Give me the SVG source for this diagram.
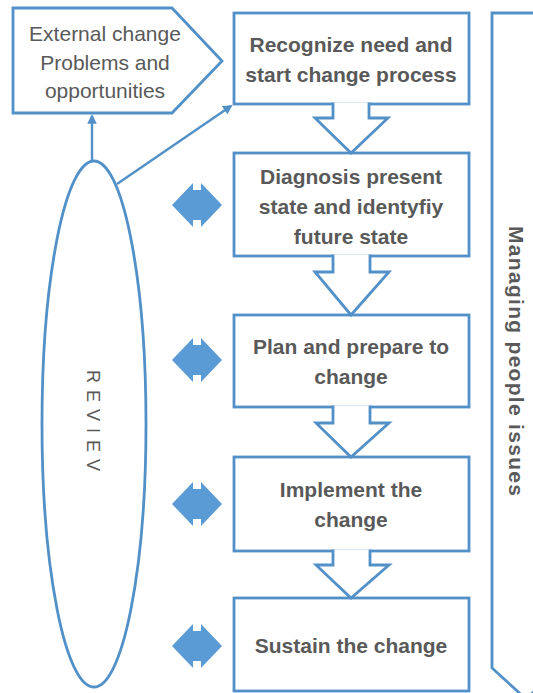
<svg xmlns="http://www.w3.org/2000/svg" width="533" height="693" viewBox="0 0 533 693">
<style>
.sh{fill:#fff;stroke:#5290C8;stroke-width:2.8}
.ba{fill:#fff;stroke:#5290C8;stroke-width:2.8;stroke-linejoin:miter}
.dbl{fill:#5B9BD5;stroke:none}
.bt{font-family:"Liberation Sans",Arial,sans-serif;font-weight:bold;font-size:21px;fill:#595959;text-anchor:middle}
.rt{font-family:"Liberation Sans",Arial,sans-serif;font-size:21px;fill:#595959;text-anchor:middle}
.con{stroke:#5290C8;stroke-width:2.4;fill:none}
</style>
<defs>
<marker id="ah" viewBox="0 0 10 10" refX="8" refY="5" markerWidth="4" markerHeight="4" orient="auto" markerUnits="strokeWidth">
<path d="M0,0 L10,5 L0,10 z" fill="#5290C8"/>
</marker>
</defs>
<rect width="533" height="693" fill="#fff"/>

<g id="managing">
<path class="sh" d="M492,13 H560 V668 L526,699 L492,668 Z" stroke="#6C8FB3"/>
<text class="bt" transform="translate(509,361) rotate(90)" font-size="23" textLength="270" lengthAdjust="spacing">Managing people issues</text>
</g>

<g id="review">
<ellipse class="sh" cx="94" cy="424" rx="52" ry="263"/>
<text transform="translate(87,424) rotate(90)" font-family="Liberation Sans,Arial,sans-serif" font-size="18" fill="#595959" text-anchor="middle" letter-spacing="7">REVIEV</text>
</g>

<g id="external">
<polygon class="sh" points="13,8 172,8 222,61 172,113 13,113"/>
<text class="rt" x="105" y="41">External change</text>
<text class="rt" x="105" y="70">Problems and</text>
<text class="rt" x="105" y="98">opportunities</text>
</g>

<g id="recognize">
<rect class="sh" x="234" y="13" width="235" height="91"/>
<text class="bt" x="351" y="52">Recognize need and</text>
<text class="bt" x="351" y="82">start change process</text>
</g>

<g id="diagnosis">
<rect class="sh" x="234" y="153" width="235" height="103"/>
<text class="bt" x="351" y="184">Diagnosis present</text>
<text class="bt" x="351" y="214">state and identyfiy</text>
<text class="bt" x="351" y="244">future state</text>
</g>

<g id="plan">
<rect class="sh" x="234" y="315" width="235" height="92"/>
<text class="bt" x="351" y="354">Plan and prepare to</text>
<text class="bt" x="351" y="384">change</text>
</g>

<g id="implement">
<rect class="sh" x="234" y="457" width="235" height="94"/>
<text class="bt" x="351" y="497">Implement the</text>
<text class="bt" x="351" y="527">change</text>
</g>

<g id="sustain">
<rect class="sh" x="234" y="598" width="235" height="93"/>
<text class="bt" x="351" y="653">Sustain the change</text>
</g>

<g id="connectors">
<path class="ba" d="M333,102.5 V118 H315 L351,153 L388,118 H369 V102.5"/>
<path class="ba" d="M333,254.5 V272 H315 L351,315 L389,272 H370 V254.5"/>
<path class="ba" d="M333,405.5 V423 H316 L351,457 L389,423 H370 V405.5"/>
<path class="ba" d="M333,549.5 V565 H316 L351,598 L389,565 H370 V549.5"/>
<line class="con" x1="92" y1="161" x2="92" y2="116" marker-end="url(#ah)"/>
<line class="con" x1="117" y1="184" x2="231" y2="106" marker-end="url(#ah)"/>
<polygon class="dbl" points="172,205 193,183 193,190 201,190 201,183 222,205 201,227 201,220 193,220 193,227"/>
<polygon class="dbl" points="172,360 193,338 193,345 201,345 201,338 222,360 201,382 201,375 193,375 193,382"/>
<polygon class="dbl" points="172,504 193,482 193,489 201,489 201,482 222,504 201,526 201,519 193,519 193,526"/>
<polygon class="dbl" points="172,646 193,624 193,631 201,631 201,624 222,646 201,668 201,661 193,661 193,668"/>
</g>
</svg>
